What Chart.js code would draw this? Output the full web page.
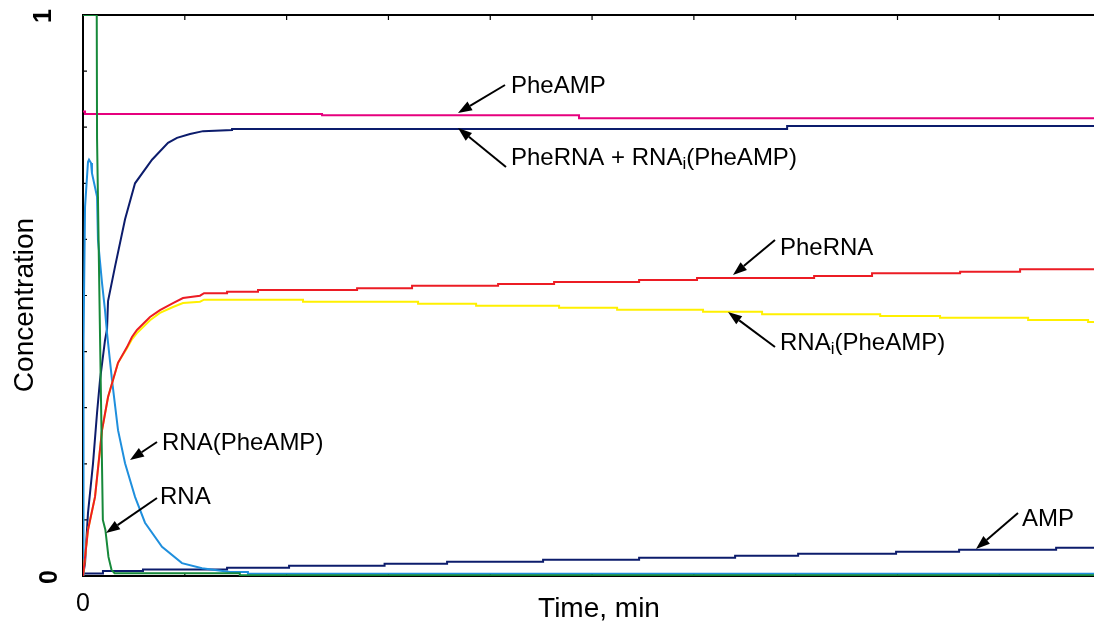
<!DOCTYPE html>
<html>
<head>
<meta charset="utf-8">
<script src="https://cdn.jsdelivr.net/npm/chart.js@4.4.1/dist/chart.umd.min.js"></script>
<style>
  html, body { margin: 0; padding: 0; background: #fff; }
  #chart { display: block; }
</style>
</head>
<body>
<canvas id="chart" width="1094" height="624"></canvas>
<script>
// time axis (min); repeated times mark a jump
const timeMax = 9.93;
const xTickLabels = ['0'];
const yTickLabels = ['0', '1'];

const tRNA = [0, 0.135, 0.138, 0.167, 0.195, 0.22, 0.25, 0.28, 0.31, 1.54, 1.54, 9.93];
const vRNA = [1, 1, 0.78, 0.43, 0.1, 0.082, 0.034, 0.011, 0.005, 0.005, 0.0015, 0.0015];

const tRNAPheAMP = [0, 0.005, 0.02, 0.049, 0.059, 0.079, 0.088, 0.118, 0.138, 0.147, 0.187, 0.216, 0.236, 0.285, 0.344, 0.413, 0.511, 0.609, 0.776, 0.972, 1.169, 1.444, 1.62, 1.62, 9.93];
const vRNAPheAMP = [0, 0.42, 0.658, 0.738, 0.742, 0.736, 0.718, 0.693, 0.676, 0.599, 0.522, 0.474, 0.433, 0.349, 0.26, 0.201, 0.141, 0.095, 0.052, 0.023, 0.014, 0.007, 0.007, 0.004, 0.004];

const tPheRNA = [0, 0.049, 0.118, 0.187, 0.246, 0.344, 0.432, 0.481, 0.53, 0.658, 0.756, 0.884, 0.982, 1.149, 1.189,
  1.415, 1.415, 1.719, 1.719, 2.692, 2.692, 3.232, 3.232, 4.077, 4.077, 4.627, 4.627, 5.462, 5.462,
  6.031, 6.031, 7.181, 7.181, 7.75, 7.75, 8.615, 8.615, 9.204, 9.204, 9.93];
const vPheRNA = [0, 0.082, 0.141, 0.26, 0.319, 0.38, 0.408, 0.426, 0.4385, 0.4617, 0.474, 0.4866, 0.4955, 0.4996, 0.504,
  0.504, 0.5068, 0.5068, 0.5098, 0.5098, 0.5128, 0.5128, 0.5175, 0.5175, 0.5205, 0.5205, 0.5241, 0.5241, 0.5276,
  0.5276, 0.5312, 0.5312, 0.5348, 0.5348, 0.5396, 0.5396, 0.5424, 0.5424, 0.5467, 0.5467];

const tRNAi = [0, 0.049, 0.118, 0.187, 0.246, 0.344, 0.432, 0.481, 0.53, 0.658, 0.756, 0.884, 0.982, 1.149, 1.189,
  2.161, 2.161, 3.291, 3.291, 3.861, 3.861, 4.676, 4.676, 5.246, 5.246, 6.09, 6.09, 6.67, 6.67,
  7.83, 7.83, 8.418, 8.418, 9.283, 9.283, 9.872, 9.872, 9.93];
const vRNAi = [0, 0.082, 0.141, 0.26, 0.319, 0.38, 0.406, 0.422, 0.433, 0.456, 0.469, 0.4795, 0.4866, 0.489, 0.4925,
  0.4925, 0.489, 0.489, 0.4854, 0.4854, 0.4818, 0.4818, 0.4783, 0.4783, 0.4747, 0.4747, 0.4711, 0.4711, 0.4665,
  0.4665, 0.4635, 0.4635, 0.4604, 0.4604, 0.4563, 0.4563, 0.4528, 0.4528];

const tSum = [0, 0.02, 0.049, 0.098, 0.138, 0.167, 0.216, 0.236, 0.246, 0.314, 0.413, 0.511, 0.678, 0.835, 0.923, 1.051, 1.179, 1.464, 1.464, 6.916, 6.916, 9.93];
const vSum = [0, 0.023, 0.112, 0.2, 0.291, 0.349, 0.42, 0.44, 0.49, 0.551, 0.636, 0.70, 0.742, 0.772, 0.781, 0.788, 0.793, 0.795, 0.797, 0.797, 0.802, 0.802];

// step series: value changes at each time
const tAMP = [0, 0.196, 0.589, 1.415, 2.024, 2.962, 3.576, 4.519, 5.462, 6.405, 7.024, 7.986, 8.605, 9.558, 9.93];
const vAMP = [0.0045, 0.009, 0.0116, 0.0148, 0.0184, 0.0219, 0.0255, 0.029, 0.0326, 0.0362, 0.0397, 0.0433, 0.0469, 0.0504, 0.0504];

const tPheAMP = [0, 0.02, 2.348, 4.872, 9.93];
const vPheAMP = [0.828, 0.8235, 0.8212, 0.8159, 0.8159];

const FONT = "'Liberation Sans', Arial, sans-serif";

// callouts: text parts [text, subscript?], text origin, arrow tail -> tip
const callouts = [
  { parts: [['PheAMP', false]], at: [511, 93], from: [505, 85], to: [458, 113] },
  { parts: [['PheRNA + RNA', false], ['i', true], ['(PheAMP)', false]], at: [511, 165], from: [506, 167], to: [458, 128] },
  { parts: [['PheRNA', false]], at: [780, 255], from: [775, 240], to: [733, 275] },
  { parts: [['RNA', false], ['i', true], ['(PheAMP)', false]], at: [780, 350], from: [775, 347], to: [728, 312] },
  { parts: [['RNA(PheAMP)', false]], at: [162, 450], from: [157, 442], to: [130, 460] },
  { parts: [['RNA', false]], at: [160, 504], from: [157, 498], to: [106, 533] },
  { parts: [['AMP', false]], at: [1022, 526], from: [1018, 513], to: [976, 549] }
];

function pts(ts, vs) {
  return ts.map((t, i) => ({ x: t, y: vs[i] }));
}

function series(label, ts, vs, color, stepped) {
  return {
    label: label,
    data: pts(ts, vs),
    borderColor: color,
    borderWidth: 2,
    pointRadius: 0,
    pointHitRadius: 0,
    fill: false,
    tension: 0,
    stepped: stepped ? 'before' : false
  };
}

function arrow(ctx, from, to) {
  const ang = Math.atan2(to[1] - from[1], to[0] - from[0]);
  const len = 14, half = 5;
  const bx = to[0] - len * Math.cos(ang), by = to[1] - len * Math.sin(ang);
  ctx.beginPath();
  ctx.moveTo(from[0], from[1]);
  ctx.lineTo(bx, by);
  ctx.stroke();
  ctx.beginPath();
  ctx.moveTo(to[0], to[1]);
  ctx.lineTo(bx + half * Math.sin(ang), by - half * Math.cos(ang));
  ctx.lineTo(bx - half * Math.sin(ang), by + half * Math.cos(ang));
  ctx.closePath();
  ctx.fill();
}

const frame = {
  id: 'frame',
  beforeDatasetsDraw(chart) {
    const ctx = chart.ctx, a = chart.chartArea;
    const xs = chart.scales.x, ys = chart.scales.y;
    ctx.save();
    ctx.strokeStyle = '#000';
    ctx.lineWidth = 2;
    ctx.beginPath();
    ctx.moveTo(a.left - 1, a.top);
    ctx.lineTo(a.right, a.top);
    ctx.stroke();
    ctx.lineWidth = 1.2;
    ctx.beginPath();
    for (let v = 1; v < 10; v++) {
      const y = ys.getPixelForValue(v / 10);
      ctx.moveTo(a.left, y);
      ctx.lineTo(a.left + 4, y);
    }
    for (let t = 1; t < timeMax; t++) {
      const x = xs.getPixelForValue(t);
      ctx.moveTo(x, a.top);
      ctx.lineTo(x, a.top + 5);
      ctx.moveTo(x, a.bottom);
      ctx.lineTo(x, a.bottom - 3);
    }
    ctx.stroke();
    ctx.restore();
  },
  afterDatasetsDraw(chart) {
    const ctx = chart.ctx;
    const ys = chart.scales.y;
    ctx.save();
    ctx.fillStyle = '#000';
    ctx.strokeStyle = '#000';

    // y tick labels, rotated
    ctx.font = 'bold 25px ' + FONT;
    ctx.textAlign = 'center';
    ctx.textBaseline = 'middle';
    [[yTickLabels[1], 1, 44], [yTickLabels[0], 0, 50]].forEach(([txt, v, x]) => {
      ctx.save();
      ctx.translate(x, ys.getPixelForValue(v) + 1);
      ctx.rotate(-Math.PI / 2);
      ctx.fillText(txt, 0, 0);
      ctx.restore();
    });

    // axis titles
    ctx.font = '28px ' + FONT;
    ctx.textBaseline = 'alphabetic';
    ctx.save();
    ctx.translate(33, 305);
    ctx.rotate(-Math.PI / 2);
    ctx.fillText('Concentration', 0, 0);
    ctx.restore();
    ctx.fillText('Time, min', 599, 617);

    // callouts
    ctx.textAlign = 'left';
    ctx.lineWidth = 2;
    callouts.forEach(c => {
      let x = c.at[0];
      c.parts.forEach(([txt, sub]) => {
        ctx.font = (sub ? '17px ' : '24px ') + FONT;
        ctx.fillText(txt, x, c.at[1] + (sub ? 4 : 0));
        x += ctx.measureText(txt).width;
      });
      arrow(ctx, c.from, c.to);
    });
    ctx.restore();
  }
};

new Chart(document.getElementById('chart'), {
  type: 'line',
  data: {
    datasets: [
      series('RNA', tRNA, vRNA, '#16893a', false),
      series('PheRNA', tPheRNA, vPheRNA, '#ec1c24', false),
      series('RNAi(PheAMP)', tRNAi, vRNAi, '#fff000', false),
      series('RNA(PheAMP)', tRNAPheAMP, vRNAPheAMP, '#1f8fdd', false),
      series('PheRNA + RNAi(PheAMP)', tSum, vSum, '#0c1c6c', false),
      series('AMP', tAMP, vAMP, '#0c1c6c', true),
      series('PheAMP', tPheAMP, vPheAMP, '#e6007e', true)
    ]
  },
  options: {
    responsive: false,
    devicePixelRatio: 1,
    animation: false,
    layout: { padding: { top: 15, right: 0, bottom: 0, left: 0 } },
    plugins: {
      legend: { display: false },
      tooltip: { enabled: false }
    },
    scales: {
      x: {
        type: 'linear',
        min: 0,
        max: timeMax,
        afterFit(scale) { scale.height = 48; },
        border: { color: '#000', width: 2 },
        grid: { drawOnChartArea: false, drawTicks: false },
        ticks: {
          stepSize: 1,
          autoSkip: false,
          maxRotation: 0,
          padding: 0,
          color: '#000',
          font: { family: FONT, size: 25, lineHeight: 2.24 },
          callback: (v) => (v === 0 ? xTickLabels[0] : '')
        }
      },
      y: {
        type: 'linear',
        min: 0,
        max: 1,
        afterFit(scale) { scale.width = 83; },
        border: { color: '#000', width: 2 },
        grid: { drawOnChartArea: false, drawTicks: false },
        ticks: { display: false }
      }
    }
  },
  plugins: [frame]
});
</script>
</body>
</html>
